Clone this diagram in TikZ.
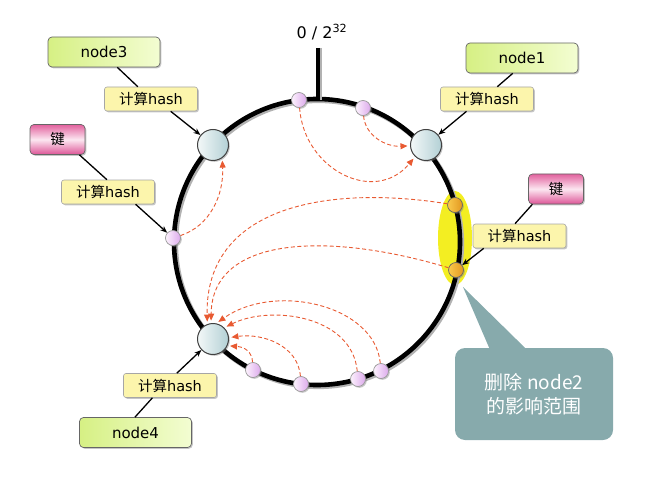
\documentclass[tikz,border=0pt]{standalone}
\usepackage{fontspec}
\setmainfont{DejaVu Sans}
\newfontfamily\cjk{Noto Sans CJK SC}
\usetikzlibrary{arrows.meta,shadows}
\definecolor{dashred}{HTML}{E85A32}
\definecolor{hlyellow}{HTML}{F3EE22}
\definecolor{calloutfill}{HTML}{87AAAC}
\definecolor{hashfill}{HTML}{FCF5AC}
\definecolor{greenL}{HTML}{D6F084}
\definecolor{greenR}{HTML}{F3FDD2}
\definecolor{pinkTop}{HTML}{E2629E}
\definecolor{pinkMid}{HTML}{FCE7F1}
\definecolor{pinkBot}{HTML}{DD5597}
\definecolor{bigL}{HTML}{F3F8F8}
\definecolor{bigR}{HTML}{B3D0D5}
\definecolor{keyL}{HTML}{FCF2FD}
\definecolor{keyR}{HTML}{DDAAEC}
\definecolor{orL}{HTML}{F9CA4C}
\definecolor{orR}{HTML}{E29620}
\begin{document}
\begin{tikzpicture}[x=1pt,y=-1pt,
  shad/.style={drop shadow={shadow xshift=1.3pt,shadow yshift=-1.3pt,opacity=0.45}},
  greenbox/.style={shad,draw=black!60,line width=0.7pt,rounded corners=4pt,left color=greenL,right color=greenR,
    minimum width=112pt,minimum height=30pt,inner sep=0pt,font=\fontsize{15}{18}\selectfont},
  pinkbox/.style={shad,draw=black!60,line width=0.7pt,rounded corners=4pt,top color=pinkTop,bottom color=pinkBot,middle color=pinkMid,
    minimum width=55pt,minimum height=30pt,inner sep=0pt,font=\fontsize{14.5}{16}\selectfont\cjk},
  hashbox/.style={shad,draw=black!35,line width=0.6pt,rounded corners=2.5pt,fill=hashfill,
    minimum width=93pt,minimum height=24pt,inner sep=0pt,font=\fontsize{14.5}{16}\selectfont},
  bignode/.style={shad,circle,draw=black!75,line width=1pt,minimum size=31pt,inner sep=0pt,left color=bigL,right color=bigR},
  keynode/.style={shad,circle,draw=black!40,line width=0.7pt,minimum size=15pt,inner sep=0pt,left color=keyL,right color=keyR},
  orkey/.style={shad,circle,draw=black!60,line width=0.7pt,minimum size=15pt,inner sep=0pt,left color=orL,right color=orR},
  darrow/.style={draw=dashred,dash pattern=on 4pt off 2.5pt,line width=0.9pt,-{Triangle[length=7pt,width=6pt]},shorten >=2.5pt},
  barrow/.style={draw=black,line width=1.3pt,-{Stealth[length=7pt,width=5.5pt]}},
  bline/.style={draw=black,line width=1.3pt}
]
\useasboundingbox (0,0) rectangle (647,481);
% ring
\coordinate (c) at (317,242);
\fill[hlyellow] (455,238) ellipse[x radius=17, y radius=47];
\draw[black!30,line width=5pt] ([shift={(1.6,1.6)}]c) circle[radius=143];
\draw[black,line width=4.6pt] (c) circle[radius=143];
\coordinate (ticktop) at (318,48);
\coordinate (tickbot) at (318,100);
\draw[black!30,line width=4pt] ([shift={(1.5,0)}]ticktop) -- ([shift={(1.5,0)}]tickbot);
\draw[black,line width=4pt] (ticktop) -- (tickbot);
\node[font=\fontsize{16}{18}\selectfont] (zero) at (322,32) {0 / 2\textsuperscript{32}};
% ring nodes
\node[bignode] (n3) at (213,145) {};
\node[bignode] (n1) at (426,145) {};
\node[bignode] (n4) at (213,339) {};
\node[keynode] (p1) at (299,100) {};
\node[keynode] (p2) at (363,108) {};
\node[keynode] (L) at (173,238) {};
\node[keynode] (b1) at (253,370) {};
\node[keynode] (b2) at (301,384) {};
\node[keynode] (b3) at (358,379) {};
\node[keynode] (b4) at (381,371) {};
\node[orkey] (o1) at (455,205) {};
\node[orkey] (o2) at (456,270) {};
% label boxes
\node[greenbox] (g3) at (104,52) {node3};
\node[hashbox] (h3) at (151,99) {{\cjk 计算}hash};
\node[greenbox] (g1) at (522,58) {node1};
\node[hashbox] (h1) at (487,99) {{\cjk 计算}hash};
\node[pinkbox] (k1) at (57.5,139.5) {键};
\node[hashbox] (h2) at (108,192) {{\cjk 计算}hash};
\node[pinkbox] (k2) at (556,189) {键};
\node[hashbox] (h4) at (519.5,236) {{\cjk 计算}hash};
\node[greenbox] (g4) at (135.5,432.5) {node4};
\node[hashbox] (h5) at (170,385.5) {{\cjk 计算}hash};
% black connectors
\draw[bline] (g3.-49) -- (h3.137);
\draw[barrow] (h3.-32) -- (n3);
\draw[bline] (g1.239) -- (h1.50);
\draw[barrow] (h1.211) -- (n1);
\draw[bline] (k1.-35) -- (h2.95);
\draw[barrow] (h2.-24) -- (L);
\draw[bline] (k2.213) -- (h4.110);
\draw[barrow] (h4.199) -- (o2);
\draw[bline] (g4.92) -- (h5.215);
\draw[barrow] (h5.61) -- (n4);
% dashed arrows
\draw[darrow] (p1) .. controls (304,170) and (375,205) .. (n1.227);
\draw[darrow] (p2) .. controls (365,135) and (385,147) .. (n1.183);
\draw[darrow] (L) .. controls (210,226) and (224,195) .. (n3.305);
\draw[darrow] (o1) .. controls (330,185) and (205,205) .. (n4.111);
\draw[darrow] (o2) .. controls (330,232) and (212,235) .. (n4.97);
\draw[darrow] (b4) .. controls (375,305) and (275,282) .. (n4.78);
\draw[darrow] (b3) .. controls (352,315) and (270,305) .. (n4.45);
\draw[darrow] (b2) .. controls (298,345) and (262,333) .. (n4.5);
\draw[darrow] (b1) .. controls (252,352) and (245,347) .. (n4.335);
% callout
\node[fill=calloutfill,rounded corners=10pt,minimum width=158pt,minimum height=92pt,inner sep=0pt,
  text=white,align=center,font=\fontsize{19}{24}\selectfont\cjk] (cb) at (534,394) {删除 node2\\的影响范围};
\coordinate (tip) at (463,287);
\fill[calloutfill] ([xshift=-44pt,yshift=-2pt]cb.north) -- (tip) -- ([xshift=-7pt,yshift=-2pt]cb.north) -- cycle;
\end{tikzpicture}
\end{document}
